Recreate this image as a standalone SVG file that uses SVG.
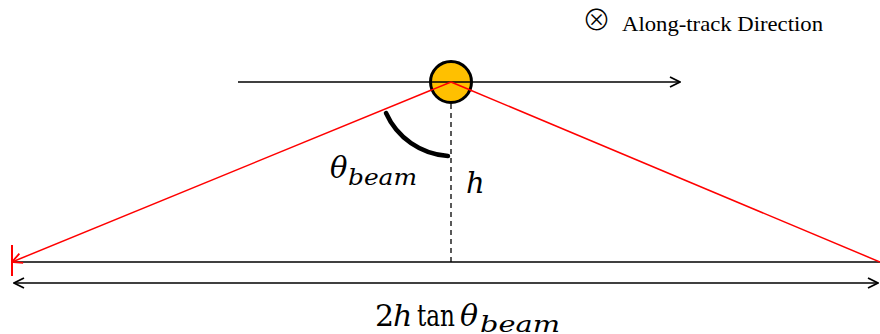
<svg xmlns="http://www.w3.org/2000/svg" width="880" height="334" viewBox="0 0 880 334">
<defs>
<style>
.blk{stroke:#000;stroke-width:1.5;fill:none}
.red{stroke:#ff0000;stroke-width:1.5;fill:none}
.math{font-family:"DejaVu Serif","Liberation Serif",serif;font-style:italic;fill:#000}
.up{font-style:normal}
.lbl{font-family:"Liberation Serif",serif;font-size:21px;fill:#000}
</style>
<marker id="open" viewBox="0 0 12 12" refX="11" refY="6" markerWidth="12" markerHeight="12" markerUnits="userSpaceOnUse" orient="auto-start-reverse">
<path d="M1,1 L11,6 L1,11" fill="none" stroke="#000" stroke-width="1.8"/>
</marker>
<marker id="openr" viewBox="0 0 12 12" refX="11" refY="6" markerWidth="12" markerHeight="12" markerUnits="userSpaceOnUse" orient="auto">
<path d="M1,1 L11,6 L1,11" fill="none" stroke="#ff0000" stroke-width="1.8"/>
</marker>
</defs>
<g id="connectors">
<line class="blk" x1="238" y1="82" x2="680" y2="82" marker-end="url(#open)"/>
<line class="blk" x1="12" y1="262" x2="880" y2="262"/>
<line class="blk" x1="14" y1="283" x2="878" y2="283" marker-start="url(#open)" marker-end="url(#open)"/>
<line x1="451" y1="104" x2="451" y2="262" stroke="#000" stroke-width="1.3" stroke-dasharray="5,4"/>
<line class="red" x1="451" y1="82" x2="12" y2="262" marker-end="url(#openr)"/>
<line class="red" x1="451" y1="82" x2="880" y2="262"/>
<line x1="12" y1="245" x2="12" y2="276" stroke="#ff0000" stroke-width="2"/>
<path d="M386,113 A73,73 0 0 0 448,156" fill="none" stroke="#000" stroke-width="4.5" stroke-linecap="round"/>
</g>
<g id="satellite">
<circle cx="451" cy="82" r="20.5" fill="#ffc000" stroke="#000" stroke-width="3"/>
<line class="blk" x1="431" y1="82" x2="471" y2="82"/>
<line class="red" x1="451" y1="82" x2="430" y2="90.6"/>
<line class="red" x1="451" y1="82" x2="472" y2="90.8"/>
</g>
<g id="theta-label">
<text class="math" font-size="29"><tspan x="330" y="178">θ</tspan><tspan x="348" y="185" font-size="22" textLength="69" lengthAdjust="spacingAndGlyphs">beam</tspan></text>
</g>
<g id="h-label">
<text class="math" x="466" y="193" font-size="29">h</text>
</g>
<g id="width-label">
<text class="math" font-size="30"><tspan class="up" x="375" y="326">2</tspan><tspan x="393" y="326">h</tspan><tspan class="up" x="417" y="326" textLength="38" lengthAdjust="spacingAndGlyphs">tan</tspan><tspan x="460" y="326">θ</tspan><tspan x="480" y="332" font-size="23" textLength="80" lengthAdjust="spacingAndGlyphs">beam</tspan></text>
</g>
<g id="direction-label">
<text x="582" y="31" font-family="'Noto Sans CJK JP', sans-serif" font-weight="300" font-size="29" fill="#000">⊗</text>
<text class="lbl" x="622" y="31" textLength="201" lengthAdjust="spacingAndGlyphs">Along-track Direction</text>
</g>
</svg>
